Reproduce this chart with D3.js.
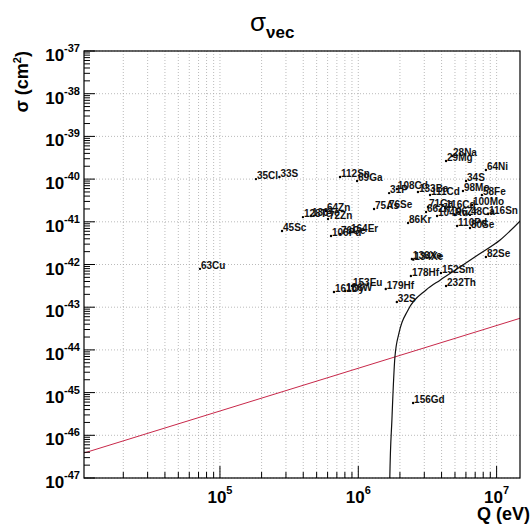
<!DOCTYPE html>
<html>
<head>
<meta charset="utf-8">
<script src="https://cdn.jsdelivr.net/npm/d3@7"></script>
<style>
  body { margin: 0; background: #fff; }
  svg { display: block; font-family: "Liberation Sans", Arial, sans-serif; }
</style>
</head>
<body>
<div id="chart"></div>
<script>
// isotope labels and their (Q, sigma) points
const isotopes = ["35Cl", "33S", "45Sc", "63Cu", "128Te", "130Te", "64Zn", "72Zn", "106Pd", "76Ge",
    "164Er", "112Sn", "69Ga", "75As", "76Se", "31P", "108Cd", "133Ba", "111Cd", "98Mo",
    "34S", "64Ni", "28Na", "29Mg", "58Fe", "100Mo", "71Ga", "116Cd", "66Zn", "104Ru",
    "96Zr", "48Ca", "116Sn", "86Kr", "110Pd", "80Se", "82Se", "136Xe", "134Xe", "178Hf",
    "152Sm", "232Th", "179Hf", "32S", "153Eu", "161Dy", "186W", "156Gd"];
const qValues = [1.82e5, 2.69e5, 2.81e5, 7.17e4, 3.98e5, 4.55e5, 5.84e5, 6.04e5, 6.35e5, 7.38e5,
    8.71e5, 7.38e5, 9.8e5, 1.30e6, 1.64e6, 1.67e6, 1.90e6, 2.70e6, 3.30e6, 5.71e6,
    6.01e6, 8.37e6, 4.76e6, 4.31e6, 7.83e6, 6.64e6, 3.19e6, 4.24e6, 3.09e6, 3.71e6,
    5.0e6, 6.42e6, 8.67e6, 2.29e6, 5.18e6, 6.42e6, 8.37e6, 2.44e6, 2.5e6, 2.40e6,
    3.96e6, 4.31e6, 1.58e6, 1.9e6, 9.0e5, 6.67e5, 8.02e5, 2.49e6];
const sigmaValues = [1.0e-40, 1.12e-40, 6.1e-42, 7.9e-43, 1.29e-41, 1.37e-41, 1.79e-41, 1.16e-41, 4.65e-42, 5.17e-42,
    5.77e-42, 1.12e-40, 9.0e-41, 2.0e-41, 2.1e-41, 4.7e-41, 5.86e-41, 4.99e-41, 4.25e-41, 5.26e-41,
    9.0e-41, 1.63e-40, 3.48e-40, 2.65e-40, 4.25e-41, 2.47e-41, 2.22e-41, 2.1e-41, 1.7e-41, 1.37e-41,
    1.45e-41, 1.45e-41, 1.52e-41, 9.4e-42, 7.98e-42, 7.16e-42, 1.5e-42, 1.35e-42, 1.3e-42, 5.4e-43,
    6.3e-43, 3.13e-43, 2.67e-43, 1.32e-43, 3.13e-43, 2.27e-43, 2.4e-43, 5.7e-46];

// black threshold curve
const curveQ = [1.68e6, 1.69e6, 1.75e6, 1.84e6, 1.97e6, 2.29e6, 3.09e6, 3.9e6, 5.43e6, 7.7e6, 1.06e7, 1.48e7];
const curveSigma = [1e-48, 1e-47, 2.3e-46, 6.8e-45, 2.5e-44, 8.6e-44, 2.53e-43, 4.3e-43, 8.7e-43, 1.86e-42, 3.75e-42, 1.05e-41];

// red straight line
const lineQ = [1.04e4, 1.476e7];
const lineSigma = [3.85e-47, 5.5e-44];

// axis ranges and tick labels (exponents)
const xRange = [1.04e4, 1.476e7];
const yRange = [1e-47, 1e-37];
const xTickExponents = [5, 6, 7];
const yTickExponents = [-47, -46, -45, -44, -43, -42, -41, -40, -39, -38, -37];

const W = 532, H = 525;
const margin = {top: 51, right: 12, bottom: 47, left: 84},
    width = W - margin.left - margin.right,
    height = H - margin.top - margin.bottom;

const svg = d3.select('#chart').append('svg')
    .attr('width', W).attr('height', H);

const x = d3.scaleLog().domain(xRange).range([0, width]);
const y = d3.scaleLog().domain(yRange).range([height, 0]);

const g = svg.append('g').attr('transform', `translate(${margin.left},${margin.top})`);

// all log positions 1..9 x 10^n inside the range
function logPositions(scale) {
    const [a, b] = scale.domain();
    const lo = Math.floor(Math.log10(a)), hi = Math.ceil(Math.log10(b));
    const out = [];
    for (let e = lo; e <= hi; e++)
        for (let k = 1; k <= 9; k++) {
            const v = k * Math.pow(10, e);
            if (v >= a * 0.9999 && v <= b * 1.0001) out.push({v: v, major: k === 1});
        }
    return out;
}
const xPos = logPositions(x);
const yPos = logPositions(y);

// grid: vertical at every tick, horizontal at decades
g.append('g').selectAll('line').data(xPos).join('line')
    .attr('x1', d => x(d.v)).attr('x2', d => x(d.v))
    .attr('y1', 0).attr('y2', height)
    .attr('stroke', '#aaa').attr('stroke-width', 0.8).attr('stroke-dasharray', '1,2');
g.append('g').selectAll('line').data(yPos.filter(d => d.major)).join('line')
    .attr('x1', 0).attr('x2', width)
    .attr('y1', d => y(d.v)).attr('y2', d => y(d.v))
    .attr('stroke', '#aaa').attr('stroke-width', 0.8).attr('stroke-dasharray', '1,2');

// clip path for lines
svg.append('defs').append('clipPath').attr('id', 'frame')
    .append('rect').attr('width', width).attr('height', height);

// red line
g.append('path')
    .datum(lineQ.map((q, i) => [q, lineSigma[i]]))
    .attr('clip-path', 'url(#frame)')
    .attr('fill', 'none').attr('stroke', '#c8284a').attr('stroke-width', 1)
    .attr('d', d3.line().x(d => x(d[0])).y(d => y(d[1])));

// black curve
g.append('path')
    .datum(curveQ.map((q, i) => [q, curveSigma[i]]))
    .attr('clip-path', 'url(#frame)')
    .attr('fill', 'none').attr('stroke', '#111').attr('stroke-width', 1.2)
    .attr('d', d3.line().x(d => x(d[0])).y(d => y(d[1])).curve(d3.curveMonotoneX));

// points and labels
const pts = isotopes.map((name, i) => ({name: name, q: qValues[i], s: sigmaValues[i]}));
g.append('g').selectAll('circle').data(pts).join('circle')
    .attr('cx', d => x(d.q)).attr('cy', d => y(d.s)).attr('r', 1.2).attr('fill', '#000');
g.append('g').selectAll('text').data(pts).join('text')
    .attr('x', d => x(d.q) + 1).attr('y', d => y(d.s))
    .attr('font-size', 10).attr('font-weight', 'bold').attr('fill', '#111')
    .text(d => d.name);

// ticks (inside the frame)
g.append('g').selectAll('line').data(xPos).join('line')
    .attr('x1', d => x(d.v)).attr('x2', d => x(d.v))
    .attr('y1', height).attr('y2', d => height - (d.major ? 12 : 6))
    .attr('stroke', '#000').attr('stroke-width', 1);
g.append('g').selectAll('line').data(yPos).join('line')
    .attr('x1', 0).attr('x2', d => d.major ? 11 : 6)
    .attr('y1', d => y(d.v)).attr('y2', d => y(d.v))
    .attr('stroke', '#000').attr('stroke-width', 1);

// frame
g.append('rect').attr('width', width).attr('height', height)
    .attr('fill', 'none').attr('stroke', '#000').attr('stroke-width', 1.2);

// tick labels
const xl = g.append('g').selectAll('text').data(xTickExponents).join('text')
    .attr('x', d => x(Math.pow(10, d))).attr('y', height + 25)
    .attr('text-anchor', 'middle').attr('font-size', 17).attr('font-weight', 'bold');
xl.append('tspan').text('10');
xl.append('tspan').attr('dy', -9).attr('font-size', 11).text(d => d);

const yl = g.append('g').selectAll('text').data(yTickExponents).join('text')
    .attr('x', -4).attr('y', d => y(Math.pow(10, d)) + 10)
    .attr('text-anchor', 'end').attr('font-size', 17).attr('font-weight', 'bold');
yl.append('tspan').text('10');
yl.append('tspan').attr('dy', -9).attr('font-size', 11).text(d => d);

// axis titles
svg.append('text')
    .attr('transform', `translate(28,${margin.top}) rotate(-90)`)
    .attr('text-anchor', 'end').attr('font-size', 18).attr('font-weight', 'bold')
    .html('σ (cm<tspan dy="-7" font-size="11">2</tspan><tspan dy="7">)</tspan>');
svg.append('text')
    .attr('x', W - 2).attr('y', H - 5)
    .attr('text-anchor', 'end').attr('font-size', 18).attr('font-weight', 'bold')
    .text('Q (eV)');

// title
const title = svg.append('text')
    .attr('x', 250).attr('y', 31).attr('font-size', 26);
title.append('tspan').text('σ');
title.append('tspan').attr('dy', 7).attr('font-size', 17).attr('font-weight', 'bold').text('νec');
</script>
</body>
</html>
